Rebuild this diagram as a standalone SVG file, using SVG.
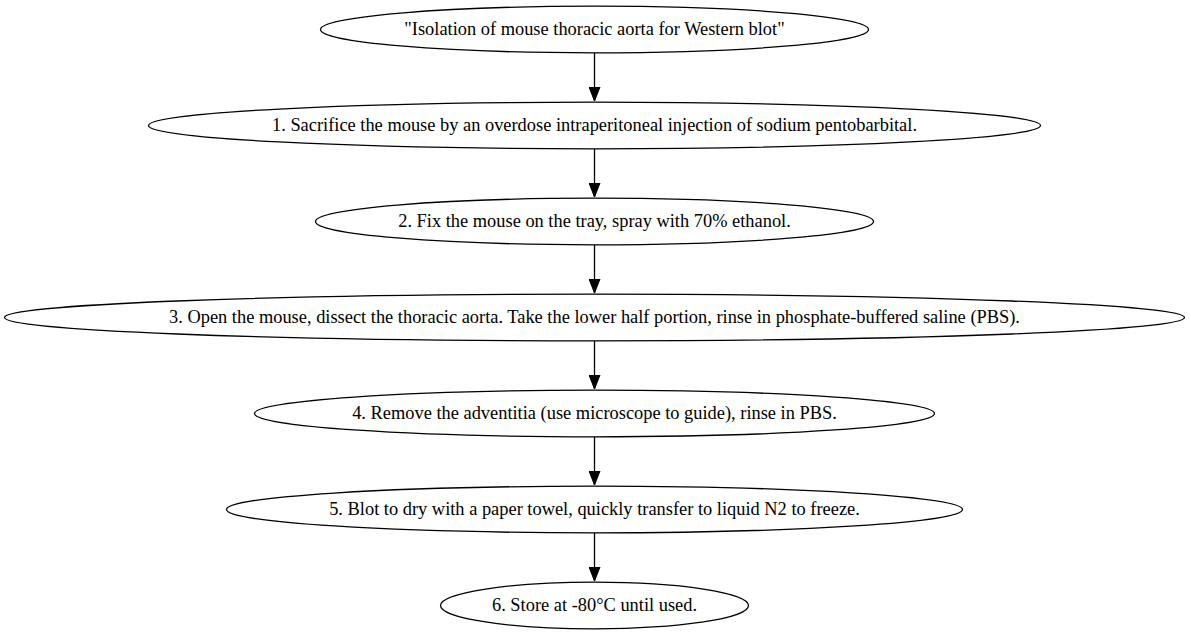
<svg xmlns="http://www.w3.org/2000/svg" width="1189" height="635" viewBox="0 0 1189 635">
<defs>
<style>
.n ellipse{fill:none;stroke:#000;stroke-width:1.3}
.n text{font-size:18.4px;fill:#000;text-anchor:middle}
.e line{stroke:#000;stroke-width:1.3}
</style>
<marker id="ah" markerUnits="userSpaceOnUse" markerWidth="15" markerHeight="12" refX="14" refY="5.5" orient="auto" viewBox="0 0 15 11">
<path d="M0,0 L14,5.5 L0,11 Z" fill="#000" stroke="#000" stroke-width="1"/>
</marker>
</defs>
<rect width="1189" height="635" fill="#fff"/>
<g id="edges" class="e">
<line x1="594.5" y1="53" x2="594.5" y2="101" marker-end="url(#ah)"/>
<line x1="594.5" y1="149" x2="594.5" y2="197" marker-end="url(#ah)"/>
<line x1="594.5" y1="245" x2="594.5" y2="293" marker-end="url(#ah)"/>
<line x1="594.5" y1="341" x2="594.5" y2="389" marker-end="url(#ah)"/>
<line x1="594.5" y1="437" x2="594.5" y2="485" marker-end="url(#ah)"/>
<line x1="594.5" y1="533" x2="594.5" y2="581" marker-end="url(#ah)"/>
</g>
<g class="n" font-family="Liberation Serif, Times New Roman, Times, serif">
<g id="n0"><ellipse cx="594.5" cy="29.5" rx="274" ry="23.3"/><text x="594.5" y="35">"Isolation of mouse thoracic aorta for Western blot"</text></g>
<g id="n1"><ellipse cx="594.5" cy="125.5" rx="446" ry="23.3"/><text x="594.5" y="131">1. Sacrifice the mouse by an overdose intraperitoneal injection of sodium pentobarbital.</text></g>
<g id="n2"><ellipse cx="594.5" cy="221.5" rx="279" ry="23.3"/><text x="594.5" y="227">2. Fix the mouse on the tray, spray with 70% ethanol.</text></g>
<g id="n3"><ellipse cx="594.5" cy="317.5" rx="590" ry="23.3"/><text x="594.5" y="323">3. Open the mouse, dissect the thoracic aorta. Take the lower half portion, rinse in phosphate-buffered saline (PBS).</text></g>
<g id="n4"><ellipse cx="594.5" cy="413.5" rx="340" ry="23.3"/><text x="594.5" y="419">4. Remove the adventitia (use microscope to guide), rinse in PBS.</text></g>
<g id="n5"><ellipse cx="594.5" cy="509.5" rx="368" ry="23.3"/><text x="594.5" y="515">5. Blot to dry with a paper towel, quickly transfer to liquid N2 to freeze.</text></g>
<g id="n6"><ellipse cx="594.5" cy="605.5" rx="154" ry="23.3"/><text x="594.5" y="611">6. Store at -80°C until used.</text></g>
</g>
</svg>
